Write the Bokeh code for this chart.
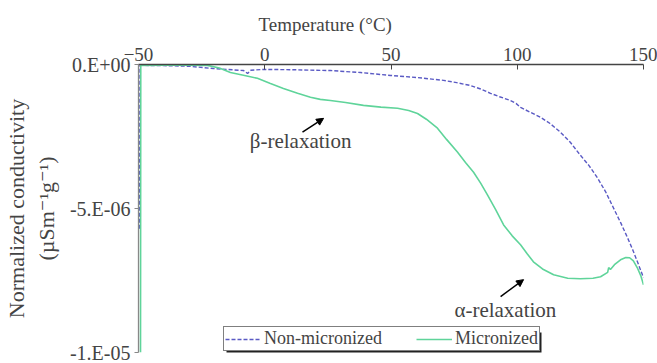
from bokeh.plotting import figure
from bokeh.models import FixedTicker, Arrow, NormalHead, Label, BoxAnnotation
from bokeh.embed import file_html
from bokeh.resources import INLINE

# Temperature (°C) and normalized conductivity (µS m^-1 g^-1)
micro_T = [-49.2, -49.1, -40.0, -30.0, -22.7, -18.0, -13.6, -8.0, -2.9, 2.0, 7.4, 13.0, 18.1,
           22.0, 26.0, 32.0, 39.1, 46.0, 52.6, 57.0, 60.5, 64.0, 68.4, 72.0, 76.3, 79.5, 82.7,
           85.5, 88.2, 91.5, 94.6, 98.0, 101.3, 104.0, 106.4, 110.0, 114.4, 120.0, 125.0,
           130.0, 133.0, 135.8, 136.2, 136.9, 138.5, 140.9, 143.0, 144.5, 146.0, 147.5, 149.0,
           150.0]
micro_y = [-1.0e-5, -0.03e-6, -0.02e-6, -0.02e-6, -0.03e-6, -0.12e-6, -0.28e-6, -0.38e-6,
           -0.48e-6, -0.65e-6, -0.83e-6, -1.00e-6, -1.14e-6, -1.21e-6, -1.25e-6, -1.32e-6,
           -1.42e-6, -1.48e-6, -1.52e-6, -1.60e-6, -1.70e-6, -1.90e-6, -2.21e-6, -2.60e-6,
           -3.04e-6, -3.40e-6, -3.74e-6, -4.12e-6, -4.53e-6, -5.05e-6, -5.57e-6, -5.95e-6,
           -6.26e-6, -6.58e-6, -6.85e-6, -7.10e-6, -7.30e-6, -7.42e-6, -7.44e-6, -7.42e-6,
           -7.37e-6, -7.22e-6, -7.05e-6, -7.12e-6, -6.95e-6, -6.78e-6, -6.70e-6, -6.71e-6,
           -6.82e-6, -7.05e-6, -7.35e-6, -7.65e-6]

nonmicro_T = [-49.6, -49.4, -40.0, -30.0, -20.3, -8.4, -6.8, -5.5, -0.5, 10.0, 26.0, 38.0, 49.8,
              60.0, 70.8, 76.0, 81.5, 85.5, 89.4, 93.0, 97.3, 99.5, 101.3, 105.0, 109.2, 113.0,
              117.1, 121.0, 125.0, 128.5, 131.8, 135.0, 138.1, 141.0, 143.7, 145.8, 147.6, 150.0]
nonmicro_y = [-5.7e-6, -0.03e-6, -0.04e-6, -0.06e-6, -0.14e-6, -0.21e-6, -0.31e-6, -0.20e-6,
              -0.17e-6, -0.18e-6, -0.21e-6, -0.28e-6, -0.38e-6, -0.45e-6, -0.55e-6, -0.63e-6,
              -0.73e-6, -0.85e-6, -1.00e-6, -1.12e-6, -1.25e-6, -1.35e-6, -1.49e-6, -1.65e-6,
              -1.83e-6, -2.05e-6, -2.35e-6, -2.70e-6, -3.15e-6, -3.52e-6, -3.94e-6, -4.42e-6,
              -4.98e-6, -5.50e-6, -6.02e-6, -6.45e-6, -6.85e-6, -7.40e-6]

xtick_values = [-50, 0, 50, 100, 150]
ytick_values = [0.0, -5e-6, -1e-5]
ytick_labels = ["0.E+00", "-5.E-06", "-1.E-05"]

FONT = "'Liberation Serif', 'DejaVu Serif', 'Times New Roman', serif"

p = figure(width=657, height=363, output_backend="svg", toolbar_location=None,
           x_range=(-50, 150), y_range=(-1e-5, 0), x_axis_location="above",
           min_border_left=138, min_border_right=14, min_border_top=64, min_border_bottom=11)
p.outline_line_color = None
p.grid.visible = False
p.background_fill_color = "white"

p.title.text = "Temperature (°C)"
p.title.align = "left"
p.title.offset = 120
p.title.text_font = FONT
p.title.text_font_style = "normal"
p.title.text_font_size = "19px"
p.title.standoff = 19

p.line(nonmicro_T, nonmicro_y, line_color="#5a5ac4", line_width=1.4, line_dash="4 2",
       legend_label="Non-micronized")
p.line(micro_T, micro_y, line_color="#5fd49a", line_width=1.6, legend_label="Micronized")

xa = p.xaxis[0]
xa.ticker = FixedTicker(ticks=xtick_values)
xa.major_label_text_font = FONT
xa.major_label_text_font_size = "19px"
xa.major_label_standoff = 4
xa.major_tick_in = 5
xa.major_tick_out = 0
xa.minor_tick_in = 0
xa.minor_tick_out = 0
xa.axis_line_color = "#444444"
xa.major_tick_line_color = "#444444"
xa.axis_line_width = 1.3

ya = p.yaxis[0]
ya.ticker = FixedTicker(ticks=ytick_values)
ya.major_label_overrides = dict(zip(ytick_values, ytick_labels))
ya.axis_label = "Normalized conductivity\n(µSm⁻¹g⁻¹)"
ya.axis_label_text_font = FONT
ya.axis_label_text_font_style = "normal"
ya.axis_label_text_font_size = "22px"
ya.axis_label_standoff = 8
ya.major_label_text_font = FONT
ya.major_label_text_font_size = "20px"
ya.major_label_standoff = 4
ya.major_tick_in = 0
ya.major_tick_out = 4
ya.minor_tick_in = 0
ya.minor_tick_out = 0
ya.axis_line_color = "#888888"
ya.major_tick_line_color = "#888888"
ya.axis_line_width = 1.3

p.add_layout(Label(x=14.2, y=-2.66e-6, text="β-relaxation", text_font=FONT,
                   text_font_size="21px", text_align="center", text_baseline="middle"))
p.add_layout(Label(x=95.3, y=-8.51e-6, text="α-relaxation", text_font=FONT,
                   text_font_size="21px", text_align="center", text_baseline="middle"))
p.add_layout(Arrow(x_start=14.95, y_start=-2.35e-6, x_end=23.3, y_end=-1.87e-6,
                   line_color="black", line_width=1.5,
                   end=NormalHead(size=7, fill_color="black", line_color="black")))
p.add_layout(Arrow(x_start=93.4, y_start=-8.06e-6, x_end=102.5, y_end=-7.47e-6,
                   line_color="black", line_width=1.5,
                   end=NormalHead(size=7, fill_color="black", line_color="black")))

# legend drop shadow (screen units, relative to the frame's bottom-left)
p.add_layout(BoxAnnotation(left=88, right=403, bottom=-3, top=20,
                           left_units="screen", right_units="screen",
                           bottom_units="screen", top_units="screen",
                           fill_color="#222222", fill_alpha=1, line_color=None,
                           level="underlay"))

lg = p.legend[0]
lg.orientation = "horizontal"
lg.location = (85, 1)
lg.label_text_font = FONT
lg.label_text_font_size = "18px"
lg.label_standoff = 3
lg.glyph_width = 36
lg.glyph_height = 14
lg.label_height = 14
lg.padding = 1
lg.margin = 0
lg.spacing = 34
lg.border_line_color = "black"
lg.border_line_width = 1.5
lg.background_fill_alpha = 1

open("out.html", "w").write(file_html(p, INLINE))
